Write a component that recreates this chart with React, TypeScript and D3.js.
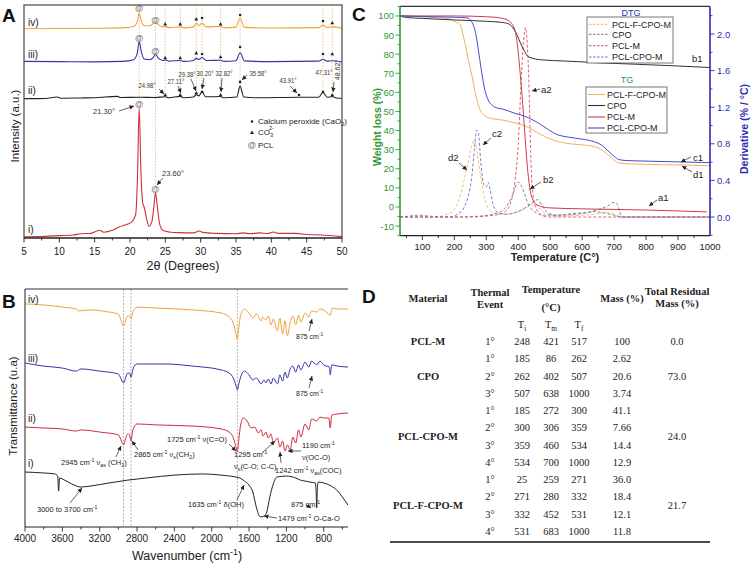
import React from 'react';
import * as d3 from 'd3';

type P = [number, number];

// ---------------- Panel A: XRD ----------------
const xrdI: P[] = [[5,0.5],[8,0.7],[10,1],[12,1.3],[13,1.8],[14.5,2],[15.3,3],[15.7,3.3],[16.3,2.5],[17.5,3.3],[18.5,4.8],[19.5,5.8],[20.3,7],[20.8,10],[21.05,25],[21.3,56],[21.55,28],[21.8,15],[22.0,13.3],[22.3,9],[22.7,5],[23.1,7],[23.4,14],[23.6,19.5],[23.85,14],[24.2,6],[24.7,3.2],[25.5,2.6],[27,2.3],[29,2.2],[29.8,3],[30.3,2.4],[32,2],[35,1.8],[36,2.2],[37,1.8],[38.3,2.2],[39.5,1.9],[40.3,2.6],[41,2],[43.5,2],[45,1.5],[47,1.3],[50,0.6]];
const xrdII: P[] = [[5,59.8],[8,59.9],[9.7,60.5],[10.2,60],[13,60.1],[15,60.2],[18.2,60.8],[18.7,60.3],[21.3,60.4],[23.6,60.3],[24.98,60.6],[25.5,60.2],[27.11,60.8],[27.6,60.2],[29.0,60.5],[29.38,61.5],[29.75,61],[30.2,62.9],[30.7,60.6],[32.82,60.7],[33.3,60.2],[35.1,60.5],[35.58,65.2],[36.1,60.5],[38,60.2],[43.91,60.4],[46.7,60.4],[47.31,62.5],[47.9,60.4],[48.62,60.7],[49.2,60.1],[50,60]];
const xrdIII: P[] = [[5,75.8],[10,75.7],[15,75.6],[19,75.8],[20.5,76.5],[21.0,79],[21.3,84.3],[21.6,80],[22.0,76.8],[22.8,76.5],[23.3,77.5],[23.6,78.8],[24.0,77.3],[24.6,76.2],[24.98,76.4],[25.5,75.9],[27.11,76.2],[27.6,75.8],[29.0,76.2],[29.38,77.1],[29.75,76.6],[30.2,77.5],[30.8,76.2],[32.82,76.3],[33.3,75.8],[35.0,76.1],[35.58,79.5],[36.2,76],[40,75.7],[46.7,75.9],[47.31,76.7],[47.9,75.9],[48.62,76.1],[50,75.6]];
const xrdIV: P[] = [[5,89.8],[10,89.9],[15,90],[19,90.2],[20.5,90.8],[21.0,92.5],[21.3,96.5],[21.6,93],[22.0,91.2],[22.7,91],[23.2,91.8],[23.6,92.6],[24.0,91.6],[24.6,90.6],[24.98,90.7],[25.5,90.3],[27.11,90.6],[27.6,90.2],[29.0,90.6],[29.38,92.1],[29.75,91.2],[30.2,92.1],[30.8,90.6],[32.82,90.8],[33.3,90.2],[35.0,90.5],[35.58,94.3],[36.2,90.4],[40,90.1],[46.7,90.3],[47.31,91.4],[47.9,90.3],[48.62,90.6],[50,90]];
const xrdLabels = ['i)', 'ii)', 'iii)', 'iv)'];
const xrdTicks = [5, 10, 15, 20, 25, 30, 35, 40, 45, 50];
// marker: [2theta, value, kind]  kind: p=@ PCL, d=CaO2 dot, t=CO3 triangle
const xrdMarkIV: [number, number, string][] = [[21.3,98.7,'p'],[23.6,93.6,'p'],[24.98,91.8,'t'],[27.11,91.8,'t'],[29.38,94,'t'],[30.2,94.4,'d'],[32.82,91.8,'t'],[35.58,95.7,'d'],[47.31,93.1,'d'],[48.62,92.3,'t']];
const xrdMarkIII: [number, number, string][] = [[21.3,85.8,'p'],[23.6,80.3,'p'],[24.98,77.3,'t'],[27.11,77.3,'t'],[29.38,79.4,'t'],[30.2,79,'d'],[32.82,77.7,'t'],[35.58,82,'d'],[47.31,79,'d'],[48.62,79,'t']];
const xrdMarkII: [number, number, string][] = [[24.98,61.4,'t'],[27.11,61.4,'t'],[29.38,62.2,'t'],[30.2,62.7,'d'],[32.82,61.4,'t'],[35.58,67,'d'],[43.91,61.4,'d'],[47.31,62.7,'d'],[48.62,61.4,'t']];
const xrdMarkI: [number, number, string][] = [[21.3,57.5,'p'],[23.6,21,'p']];
// dotted guide lines: [2theta, bottom value]
const xrdGuides: P[] = [[21.3,57.5],[23.6,21],[24.98,61.4],[27.11,61.4],[29.38,62.2],[30.2,62.7],[32.82,61.4],[35.58,61.4],[47.31,62.7],[48.62,61.4]];

// ---------------- Panel B: FTIR ----------------
const ftirI: P[] = [[4000,23.1],[3800,22.7],[3680,22.3],[3650,21.4],[3640,15.1],[3630,20.6],[3600,20.2],[3500,18.1],[3400,16.8],[3300,17.2],[3100,18.5],[2900,19.7],[2700,20.6],[2400,21.8],[2100,22.3],[1900,21.8],[1700,20.6],[1650,19.3],[1600,17.6],[1560,14.7],[1520,8],[1490,4.6],[1479,4.2],[1440,4.6],[1410,6.3],[1380,12.2],[1340,18.1],[1300,21],[1200,21.4],[1100,20.6],[1050,19.7],[1000,19.3],[950,18.9],[890,18.5],[880,13.4],[875,8],[870,14.7],[860,18.9],[800,18.5],[720,17.2],[650,15.1],[600,12.6],[540,9.2]];
const ftirII: P[] = [[4000,42],[3800,41.6],[3600,41.2],[3450,40.3],[3400,40.8],[3200,39.9],[3000,38.7],[2980,37.4],[2945,34.5],[2920,37.4],[2900,39.1],[2880,38.7],[2865,36.1],[2845,40.8],[2800,43.3],[2600,42.9],[2200,42.4],[1900,41.2],[1800,39.5],[1760,36.6],[1735,32.8],[1725,31.5],[1710,36.6],[1690,42.9],[1660,45.8],[1620,44.5],[1580,41.6],[1540,42],[1500,39.5],[1470,40.8],[1450,38.2],[1420,39.9],[1395,37.4],[1365,39.1],[1340,35.3],[1295,37.4],[1270,33.6],[1240,36.1],[1215,31.9],[1190,34.5],[1160,32.4],[1130,37.8],[1100,35.3],[1070,40.8],[1045,37.8],[1000,43.3],[960,40.8],[930,45.4],[875,44.5],[840,46.2],[800,45.8],[745,45.8],[730,41.6],[715,47],[650,47.5],[540,47.9]];
const ftirIII: P[] = [[4000,68.9],[3800,67.6],[3600,66.8],[3450,65.5],[3400,66.4],[3200,65.5],[3000,64.3],[2980,63],[2945,60.5],[2920,63],[2900,64.7],[2880,64.7],[2865,63],[2840,66.8],[2800,68.5],[2500,68.5],[2200,67.6],[1900,66],[1800,64.3],[1760,61.8],[1735,58.8],[1725,57.6],[1710,60.1],[1690,63],[1650,65.5],[1600,63.9],[1560,61.8],[1520,62.6],[1470,60.1],[1440,61.8],[1420,60.5],[1395,62.2],[1365,60.1],[1340,62.6],[1295,60.1],[1270,63.9],[1240,61.3],[1215,65.1],[1190,62.6],[1160,66.4],[1130,67.6],[1100,65.1],[1070,68.1],[1045,66],[1000,69.3],[960,67.2],[930,69.7],[875,68.1],[840,69.7],[800,68.1],[740,67.2],[730,63.9],[715,68.1],[650,67.6],[540,67.2]];
const ftirIV: P[] = [[4000,93.7],[3800,93.3],[3600,92.4],[3450,91.6],[3430,90.8],[3300,91.2],[3100,90.3],[3000,89.5],[2980,87.8],[2945,84.5],[2920,87],[2900,88.7],[2880,88.7],[2865,87.4],[2840,90.8],[2800,92.4],[2600,92],[2200,91.2],[1900,89.9],[1800,87.8],[1760,84.5],[1735,80.3],[1725,78.6],[1710,83.6],[1690,89],[1650,91.6],[1600,89.9],[1560,87.8],[1520,89.5],[1470,86.6],[1455,88.2],[1420,87],[1395,88.7],[1365,84.9],[1340,87.4],[1295,82.4],[1270,87.8],[1240,81.1],[1215,86.6],[1190,80.3],[1160,85.7],[1130,88.7],[1100,84.9],[1070,89],[1045,86.1],[1000,89.9],[960,88.2],[930,90.8],[875,90.3],[840,91.6],[800,91.2],[730,89],[710,92],[650,91.6],[540,91.6]];
const ftirTicks = [4000, 3600, 3200, 2800, 2400, 2000, 1600, 1200, 800];
const ftirGuides = [2945, 2865, 1725];

// ---------------- Panel C: TG / DTG ----------------
const tgPCLFCPOM: P[] = [[30,100],[100,99.5],[150,99],[190,98.2],[202,97],[210,96.5],[218,95.5],[226,91],[233,86],[245,76],[256,68],[264,61],[271,56],[280,51],[290,48.5],[311,46.5],[350,45.5],[390,44],[420,42.5],[444,40.5],[470,38],[494,36],[530,34],[565,33],[600,32.5],[640,31.5],[660,30],[680,27.5],[700,24.5],[715,23],[750,22.6],[800,22.3],[900,22],[1000,21.6]];
const tgCPO: P[] = [[30,100],[50,99.2],[100,98.7],[200,97.9],[300,97.2],[350,96.6],[371,95.8],[392,91.5],[412,84],[433,78.5],[474,77],[547,76.4],[650,75.5],[800,74.5],[900,73.8],[1000,73]];
const tgPCLM: P[] = [[30,100],[200,100],[300,99.6],[350,98.8],[380,96],[395,88],[405,72],[412,58],[420,40],[428,22],[436,10],[445,4],[455,1.5],[470,0.3],[500,-0.5],[600,-1],[700,-1.3],[800,-1.6],[900,-2.1],[990,-2.6]];
const tgPCLCPOM: P[] = [[30,100],[100,99.7],[200,99.3],[240,99],[254,97],[262,94],[270,88],[278,79],[286,70],[296,61],[306,56],[317,53.5],[330,52],[350,51.3],[390,49],[420,47.5],[444,45.7],[470,43.2],[494,40.5],[520,38],[560,36.5],[600,35.5],[640,34],[660,32.5],[680,29.5],[700,26.5],[715,24.8],[740,24.3],[800,24],[900,23.6],[1000,23.2]];
const dtgPCLFCPOM: P[] = [[30,0],[140,0],[170,0.02],[200,0.08],[220,0.25],[240,0.55],[255,0.78],[262,0.84],[270,0.72],[280,0.5],[290,0.28],[300,0.14],[315,0.06],[340,0.03],[380,0.04],[420,0.09],[440,0.13],[452,0.14],[470,0.08],[490,0.03],[520,0.01],[600,0.02],[660,0.04],[683,0.05],[700,0.03],[715,0],[1000,0]];
const dtgCPO: P[] = [[30,0],[60,0.01],[86,0.02],[120,0.01],[200,0],[280,0.01],[330,0.04],[360,0.1],[380,0.22],[400,0.38],[415,0.3],[430,0.15],[450,0.06],[480,0.02],[520,0.02],[580,0.04],[620,0.05],[638,0.06],[660,0.05],[700,0.02],[730,0],[1000,0]];
const dtgPCLM: P[] = [[30,0],[250,0],[300,0.01],[340,0.03],[360,0.06],[380,0.2],[390,0.4],[400,0.8],[408,1.4],[416,1.9],[423,2.07],[428,1.9],[433,1.5],[437,0.95],[441,0.5],[446,0.25],[455,0.1],[470,0.03],[490,0],[1000,0]];
const dtgPCLCPOM: P[] = [[30,0],[190,0],[210,0.03],[230,0.1],[245,0.25],[255,0.45],[263,0.75],[270,0.95],[275,0.92],[283,0.6],[292,0.35],[300,0.33],[306,0.38],[312,0.3],[320,0.15],[335,0.05],[360,0.03],[400,0.06],[430,0.12],[450,0.17],[461,0.19],[475,0.12],[495,0.04],[520,0.02],[580,0.03],[640,0.07],[680,0.12],[700,0.16],[710,0.14],[718,0.05],[724,0],[1000,0]];
const tgSeries = ['PCL-F-CPO-M', 'CPO', 'PCL-M', 'PCL-CPO-M'];
const tempTicks = [100, 200, 300, 400, 500, 600, 700, 800, 900, 1000];
const wlTicks = [-10, 0, 10, 20, 30, 40, 50, 60, 70, 80, 90, 100];
const derivTicks = [0, 0.4, 0.8, 1.2, 1.6, 2.0];

// ---------------- Panel D: table ----------------
const tblEvent = ['1°', '1°', '2°', '3°', '1°', '2°', '3°', '4°', '1°', '2°', '3°', '4°'];
const tblTi = ['248', '185', '262', '507', '185', '300', '359', '534', '25', '271', '332', '531'];
const tblTm = ['421', '86', '402', '638', '272', '306', '460', '700', '259', '280', '452', '683'];
const tblTf = ['517', '262', '507', '1000', '300', '359', '534', '1000', '271', '332', '531', '1000'];
const tblMass = ['100', '2.62', '20.6', '3.74', '41.1', '7.66', '14.4', '12.9', '36.0', '18.4', '12.1', '11.8'];
const tblMaterials = ['PCL-M', 'CPO', 'PCL-CPO-M', 'PCL-F-CPO-M'];
const tblResidual = ['0.0', '73.0', '24.0', '21.7'];
const tblGroupRows: P[] = [[0, 0], [1, 3], [4, 7], [8, 11]];

const SANS = 'Liberation Sans, Arial, Helvetica, sans-serif';
const SERIF = 'Liberation Serif, Times New Roman, serif';

function RT({ x, y, s, size = 9, anchor = 'start', fill = '#222', weight = 'normal', family = SANS }: any) {
  const parts = s.split(/(\^\{[^}]*\}|_\{[^}]*\})/).filter((p: string) => p !== '');
  let cur = 0;
  const spans = parts.map((p: string, i: number) => {
    let k = 0, t = p;
    if (p.startsWith('^{')) { k = -1; t = p.slice(2, -1); }
    else if (p.startsWith('_{')) { k = 1; t = p.slice(2, -1); }
    const target = k === -1 ? -size * 0.4 : k === 1 ? size * 0.3 : 0;
    const dy = target - cur; cur = target;
    return <tspan key={i} dy={dy} fontSize={k ? size * 0.7 : size}>{t}</tspan>;
  });
  return <text x={x} y={y} textAnchor={anchor} fill={fill} fontWeight={weight} fontFamily={family} fontSize={size}>{spans}</text>;
}

function Arrow({ x1, y1, x2, y2, c = '#222' }: any) {
  return <line x1={x1} y1={y1} x2={x2} y2={y2} stroke={c} strokeWidth={0.7} markerEnd="url(#arr)" />;
}

function Marker({ x, y, k }: any) {
  if (k === 'p') return <text x={x} y={y + 3} textAnchor="middle" fontSize={8.5} fontWeight="bold" fill="#808080" fontFamily={SANS}>@</text>;
  if (k === 'd') return <circle cx={x} cy={y} r={1.3} fill="#222" />;
  return <path d={`M${x},${y - 2} L${x + 1.9},${y + 1.4} L${x - 1.9},${y + 1.4} Z`} fill="#222" />;
}

function PeakLabel({ x, y, t }: any) {
  return <text x={x} y={y} textAnchor="middle" fontSize={7} fontFamily={SANS} fill="#333" textLength={17} lengthAdjust="spacingAndGlyphs">{t}</text>;
}

export default function App() {
  const xA = d3.scaleLinear().domain([5, 50]).range([24, 342]);
  const yA = d3.scaleLinear().domain([0, 100]).range([238, 5]);
  const lineA = d3.line<P>().x(d => xA(d[0])).y(d => yA(d[1])).curve(d3.curveMonotoneX);

  const xB = d3.scaleLinear().domain([4000, 540]).range([25, 348]);
  const yB = d3.scaleLinear().domain([0, 100]).range([527, 289]);
  const lineB = d3.line<P>().x(d => xB(d[0])).y(d => yB(d[1])).curve(d3.curveMonotoneX);

  const xC = d3.scaleLinear().domain([30, 1000]).range([400, 710]);
  const yCL = d3.scaleLinear().domain([-15, 105]).range([235.6, 6.4]);
  const yCR = d3.scaleLinear().domain([0, 2]).range([217, 34]);
  const lineTG = d3.line<P>().x(d => xC(d[0])).y(d => yCL(d[1])).curve(d3.curveMonotoneX);
  const lineDTG = d3.line<P>().x(d => xC(d[0])).y(d => yCR(d[1])).curve(d3.curveMonotoneX);

  const ORANGE = '#efa23e', BLUE = '#3434ad', RED = '#cf2e3e', BLACK = '#222';
  const GREEN = '#2f9a35', DBLUE = '#2d2db0';

  const xrdCurves: [P[], string][] = [[xrdI, RED], [xrdII, BLACK], [xrdIII, BLUE], [xrdIV, ORANGE]];
  const xrdLabelY = [233, 94, 58, 26];
  const xrdMarks = [xrdMarkI, xrdMarkII, xrdMarkIII, xrdMarkIV];

  const ftirCurves: [P[], string][] = [[ftirI, BLACK], [ftirII, RED], [ftirIII, BLUE], [ftirIV, ORANGE]];
  const ftirLabelY = [467, 422, 362, 303];

  const tgColors = ['#f2b060', '#333', '#cf3a48', '#4848d0'];
  const dtgColors = ['#f0b860', '#7a7a7a', '#e0505e', '#7070c8'];
  const tgData = [tgPCLFCPOM, tgCPO, tgPCLM, tgPCLCPOM];
  const dtgData = [dtgPCLFCPOM, dtgCPO, dtgPCLM, dtgPCLCPOM];

  const minorA = d3.range(5, 50.01, 2.5);
  const minorB = d3.range(4000, 539, -200);
  const minorCx = d3.range(50, 1000, 50);
  const minorCl = d3.range(-15, 105.01, 5);
  const minorCr = d3.range(-0.2, 2.31, 0.2);

  const rowY = (i: number) => 345 + i * 17.27;
  const colX = { mat: 428, ev: 490, ti: 522, tm: 551, tf: 579, mass: 622, res: 677 };

  return (
    <svg width={753} height={567} viewBox="0 0 753 567" style={{ position: 'absolute', left: 0, top: 0, background: '#fff' }}>
      <defs>
        <marker id="arr" viewBox="0 0 6 6" refX={6} refY={3} markerWidth={4.5} markerHeight={4.5} markerUnits="userSpaceOnUse" orient="auto">
          <path d="M0,0 L6,3 L0,6 Z" fill="#222" />
        </marker>
      </defs>
      <rect x={0} y={0} width={753} height={567} fill="#fff" />

      {/* ================= Panel A ================= */}
      <text x={2} y={22} fontSize={19} fontWeight="bold" fontFamily={SANS} fill="#111">A</text>
      {xrdGuides.map(([t, v], i) => (
        <line key={i} x1={xA(t)} x2={xA(t)} y1={yA(100)} y2={yA(v) - 3} stroke="#e9b46a" strokeWidth={0.8} strokeDasharray="1.5,1.5" />
      ))}
      {xrdCurves.map(([d, c], i) => (
        <path key={i} d={lineA(d) || ''} fill="none" stroke={c} strokeWidth={1.1} />
      ))}
      {xrdMarks.map((ms, i) => ms.map(([t, v, k], j) => <Marker key={i + '-' + j} x={xA(t)} y={yA(v)} k={k} />))}
      {xrdLabels.map((l, i) => (
        <text key={l} x={28} y={xrdLabelY[i]} fontSize={10} fontFamily={SANS} fill="#222">{l}</text>
      ))}
      <rect x={24} y={5} width={318} height={233} fill="none" stroke="#555" strokeWidth={1.3} />
      <line x1={24} x2={342} y1={238} y2={238} stroke="#222" strokeWidth={1.2} />
      {minorA.map(t => (
        <line key={t} x1={xA(t)} x2={xA(t)} y1={238} y2={238 + (t % 5 === 0 ? 4.5 : 2.5)} stroke="#222" strokeWidth={0.9} />
      ))}
      {xrdTicks.map(t => (
        <text key={t} x={xA(t)} y={255} textAnchor="middle" fontSize={10} fontFamily={SANS} fill="#222">{t}</text>
      ))}
      <text x={183} y={270} textAnchor="middle" fontSize={12.5} fontFamily={SANS} fill="#222">2θ (Degrees)</text>
      <text transform="translate(19,126) rotate(-90)" textAnchor="middle" fontSize={11.5} fontFamily={SANS} fill="#222">Intensity (a.u.)</text>
      {/* annotations A */}
      <text x={104} y={114} textAnchor="middle" fontSize={7.5} fontFamily={SANS} fill="#333">21.30°</text>
      <Arrow x1={119} y1={111} x2={134} y2={106} />
      <text x={173} y={176} textAnchor="middle" fontSize={7.5} fontFamily={SANS} fill="#333">23.60°</text>
      <Arrow x1={163} y1={178} x2={157} y2={185} />
      <PeakLabel x={147} y={88} t="24.98°" />
      <Arrow x1={159} y1={89} x2={164} y2={94} />
      <PeakLabel x={176} y={84} t="27.11°" />
      <Arrow x1={178} y1={86} x2={181} y2={93} />
      <PeakLabel x={187} y={77} t="29.38°" />
      <Arrow x1={191} y1={79} x2={196} y2={91} />
      <PeakLabel x={205} y={76} t="30.20°" />
      <Arrow x1={204} y1={78} x2={202} y2={89} />
      <PeakLabel x={224} y={76} t="32.82°" />
      <Arrow x1={222} y1={78} x2={221} y2={92} />
      <PeakLabel x={258} y={76} t="35.58°" />
      <Arrow x1={247} y1={75} x2={242} y2={80} />
      <PeakLabel x={288} y={83} t="43.91°" />
      <Arrow x1={290} y1={86} x2={297} y2={93} />
      <PeakLabel x={324} y={75} t="47.31°" />
      <text transform="translate(340,70) rotate(-90)" textAnchor="middle" fontSize={7} fontFamily={SANS} fill="#333">48.62°</text>
      <Arrow x1={334} y1={82} x2={333} y2={92} />
      {/* legend A */}
      <circle cx={252} cy={121.5} r={1.3} fill="#222" />
      <RT x={258} y={124} s="Calcium peroxide (CaO_{2})" size={8} />
      <path d="M252,130.5 L254,134 L250,134 Z" fill="#222" />
      <RT x={258} y={135} s="CO_{3}" size={8} />
      <text x={269} y={130} fontSize={5.5} fontFamily={SANS} fill="#222">2-</text>
      <text x={252} y={148} textAnchor="middle" fontSize={8.5} fontWeight="bold" fill="#808080" fontFamily={SANS}>@</text>
      <text x={258} y={148} fontSize={8} fontFamily={SANS} fill="#222">PCL</text>

      {/* ================= Panel B ================= */}
      <text x={2} y={308} fontSize={19} fontWeight="bold" fontFamily={SANS} fill="#111">B</text>
      {ftirGuides.map(w => (
        <line key={w} x1={xB(w)} x2={xB(w)} y1={289} y2={527} stroke="#9a9a9a" strokeWidth={0.8} strokeDasharray="2,1.5" />
      ))}
      {ftirCurves.map(([d, c], i) => (
        <path key={i} d={lineB(d) || ''} fill="none" stroke={c} strokeWidth={1} />
      ))}
      {xrdLabels.map((l, i) => (
        <text key={l} x={28} y={ftirLabelY[i]} fontSize={10} fontFamily={SANS} fill="#222">{l}</text>
      ))}
      <line x1={25} x2={348} y1={289} y2={289} stroke="#333" strokeWidth={1.1} />
      <line x1={25} x2={25} y1={289} y2={527} stroke="#333" strokeWidth={1.1} />
      <line x1={25} x2={348} y1={527} y2={527} stroke="#222" strokeWidth={1.2} />
      {minorB.map(w => (
        <line key={w} x1={xB(w)} x2={xB(w)} y1={527} y2={527 + (w % 400 === 0 ? 4.5 : 2.5)} stroke="#222" strokeWidth={0.9} />
      ))}
      {ftirTicks.map(w => (
        <text key={w} x={xB(w)} y={542} textAnchor="middle" fontSize={10} fontFamily={SANS} fill="#222">{w}</text>
      ))}
      <RT x={187} y={560} s="Wavenumber (cm^{-1})" size={12.5} anchor="middle" />
      <text transform="translate(17,406) rotate(-90)" textAnchor="middle" fontSize={11.5} fontFamily={SANS} fill="#222">Transmittance (u.a)</text>
      {/* annotations B */}
      <RT x={296} y={339} s="875 cm^{-1}" size={7} />
      <Arrow x1={309} y1={331} x2={312} y2={319} />
      <RT x={296} y={396} s="875 cm^{-1}" size={7} />
      <Arrow x1={309} y1={388} x2={312} y2={376} />
      <RT x={61} y={465} s="2945 cm^{-1} ν_{as} (CH_{2})" size={7.5} />
      <Arrow x1={116} y1={457} x2={121} y2={446} />
      <RT x={134} y={457} s="2865 cm^{-1} ν_{s}(CH_{2})" size={7.5} />
      <Arrow x1={138} y1={450} x2={132} y2={441} />
      <RT x={167} y={442} s="1725 cm^{-1} ν(C=O)" size={7.5} />
      <Arrow x1={229} y1={444} x2={236} y2={451} />
      <RT x={234} y={457} s="1295 cm^{-1}" size={7.5} />
      <RT x={234} y={469} s="ν_{s}(C-O; C-C)" size={7.5} />
      <Arrow x1={262} y1={453} x2={275} y2={441} />
      <RT x={275} y={473} s="1242 cm^{-1} ν_{as}(COC)" size={7.5} />
      <Arrow x1={281} y1={463} x2={280} y2={452} />
      <RT x={302} y={448} s="1190 cm^{-1}" size={7.5} />
      <RT x={302} y={460} s="ν(OC-O)" size={7.5} />
      <Arrow x1={301} y1={451} x2={288} y2={451} />
      <RT x={37} y={512} s="3000 to 3700 cm^{-1}" size={7.5} />
      <Arrow x1={70} y1={503} x2={82} y2={488} />
      <RT x={188} y={507} s="1635 cm^{-1} δ(OH)" size={7.5} />
      <Arrow x1={237} y1={500} x2={244} y2={485} />
      <RT x={291} y={507} s="875 cm^{-1}" size={7.5} />
      <Arrow x1={306} y1={505} x2={311} y2={508} />
      <RT x={278} y={521} s="1479 cm^{-1} O-Ca-O" size={7.5} />
      <Arrow x1={277} y1={518} x2={264} y2={516} />

      {/* ================= Panel C ================= */}
      <text x={352} y={21} fontSize={19} fontWeight="bold" fontFamily={SANS} fill="#111">C</text>
      {dtgData.map((d, i) => (
        <path key={'dtg' + i} d={lineDTG(d) || ''} fill="none" stroke={dtgColors[i]} strokeWidth={0.9} strokeDasharray="3,2" />
      ))}
      {tgData.map((d, i) => (
        <path key={'tg' + i} d={lineTG(d) || ''} fill="none" stroke={tgColors[i]} strokeWidth={1} />
      ))}
      <line x1={400} x2={710} y1={6.4} y2={6.4} stroke="#333" strokeWidth={1.2} />
      <line x1={400} x2={710} y1={235.6} y2={235.6} stroke="#222" strokeWidth={1.2} />
      <line x1={400} x2={400} y1={6.4} y2={235.6} stroke={GREEN} strokeWidth={1.6} />
      <line x1={710} x2={710} y1={6.4} y2={235.6} stroke={DBLUE} strokeWidth={1.6} />
      {minorCx.map(t => (
        <line key={t} x1={xC(t)} x2={xC(t)} y1={235.6} y2={235.6 + (t % 100 === 0 ? 4.5 : 2.5)} stroke="#222" strokeWidth={0.9} />
      ))}
      {tempTicks.map(t => (
        <text key={t} x={xC(t)} y={250} textAnchor="middle" fontSize={9.5} fontFamily={SANS} fill="#222">{t}</text>
      ))}
      {minorCl.map(v => (
        <line key={v} x1={400} x2={400 - (Math.round(v) % 10 === 0 ? 4.5 : 2.5)} y1={yCL(v)} y2={yCL(v)} stroke={GREEN} strokeWidth={0.9} />
      ))}
      {wlTicks.map(v => (
        <text key={v} x={394} y={yCL(v) + 3.5} textAnchor="end" fontSize={9.5} fontFamily={SANS} fill={GREEN}>{v}</text>
      ))}
      {minorCr.map((v, i) => (
        <line key={i} x1={710} x2={710 + (i % 2 === 1 ? 4.5 : 2.5)} y1={yCR(v)} y2={yCR(v)} stroke={DBLUE} strokeWidth={0.9} />
      ))}
      {derivTicks.map(v => (
        <text key={v} x={717} y={yCR(v) + 3.5} fontSize={9.5} fontFamily={SANS} fill={DBLUE}>{v.toFixed(1)}</text>
      ))}
      <text x={555} y={261} textAnchor="middle" fontSize={11} fontWeight="bold" fontFamily={SANS} fill="#222">Temperature (C°)</text>
      <text transform="translate(381,127) rotate(-90)" textAnchor="middle" fontSize={10.5} fontWeight="bold" fontFamily={SANS} fill={GREEN}>Weight loss (%)</text>
      <text transform="translate(748,129) rotate(-90)" textAnchor="middle" fontSize={10.5} fontWeight="bold" fontFamily={SANS} fill={DBLUE}>Derivative (% / °C)</text>
      {/* legends C */}
      <text x={631} y={16} textAnchor="middle" fontSize={9} fontFamily={SANS} fill={DBLUE}>DTG</text>
      <rect x={587} y={17} width={86} height={46} fill="#fff" stroke="#555" strokeWidth={0.8} />
      {tgSeries.map((s, i) => {
        const yy = [24.3, 34.3, 45.7, 57][i];
        return (
          <g key={'ld' + i}>
            <line x1={589} x2={608} y1={yy} y2={yy} stroke={dtgColors[i]} strokeWidth={1} strokeDasharray="2.5,1.5" />
            <text x={612} y={yy + 3.3} fontSize={9} fontFamily={SANS} fill="#222">{s}</text>
          </g>
        );
      })}
      <text x={627} y={83} textAnchor="middle" fontSize={9} fontFamily={SANS} fill={GREEN}>TG</text>
      <rect x={586} y={87} width={81} height={46} fill="#fff" stroke="#555" strokeWidth={0.8} />
      {tgSeries.map((s, i) => {
        const yy = [94.5, 105.5, 117, 128][i];
        return (
          <g key={'lt' + i}>
            <line x1={588} x2={605} y1={yy} y2={yy} stroke={tgColors[i]} strokeWidth={1.1} />
            <text x={607} y={yy + 3.3} fontSize={9} fontFamily={SANS} fill="#222">{s}</text>
          </g>
        );
      })}
      {/* annotations C */}
      <text x={541} y={93} fontSize={9.5} fontFamily={SANS} fill="#222">a2</text>
      <Arrow x1={540} y1={89} x2={532} y2={91} />
      <text x={492} y={137} fontSize={9.5} fontFamily={SANS} fill="#222">c2</text>
      <Arrow x1={491} y1={138} x2={483} y2={145} />
      <text x={448} y={161} fontSize={9.5} fontFamily={SANS} fill="#222">d2</text>
      <Arrow x1={459} y1={163} x2={467} y2={170} />
      <text x={543} y={183} fontSize={9.5} fontFamily={SANS} fill="#222">b2</text>
      <Arrow x1={541} y1={182} x2={530} y2={189} />
      <text x={658} y={201} fontSize={9.5} fontFamily={SANS} fill="#222">a1</text>
      <Arrow x1={657} y1={200} x2={649} y2={206} />
      <text x={693} y={161} fontSize={9.5} fontFamily={SANS} fill="#222">c1</text>
      <Arrow x1={691} y1={157} x2={681} y2={162} />
      <text x={693} y={178} fontSize={9.5} fontFamily={SANS} fill="#222">d1</text>
      <Arrow x1={692} y1={172} x2={682} y2={166} />
      <text x={692} y={62} fontSize={9.5} fontFamily={SANS} fill="#222">b1</text>

      {/* ================= Panel D ================= */}
      <text x={362} y={303} fontSize={19} fontWeight="bold" fontFamily={SANS} fill="#111">D</text>
      <g fontFamily={SERIF} fontSize={10.5} fill="#222">
        <text x={colX.mat} y={302} textAnchor="middle" fontWeight="bold">Material</text>
        <text x={colX.ev} y={296} textAnchor="middle" fontWeight="bold">Thermal</text>
        <text x={colX.ev} y={307.5} textAnchor="middle" fontWeight="bold">Event</text>
        <text x={colX.tm} y={293} textAnchor="middle" fontWeight="bold">Temperature</text>
        <text x={colX.tm} y={311} textAnchor="middle" fontWeight="bold">(°C)</text>
        <text x={colX.mass} y={302} textAnchor="middle" fontWeight="bold">Mass (%)</text>
        <text x={colX.res} y={295} textAnchor="middle" fontWeight="bold">Total Residual</text>
        <text x={colX.res} y={306.5} textAnchor="middle" fontWeight="bold">Mass (%)</text>
      </g>
      <RT x={colX.ti} y={328} s="T_{i}" size={10.5} anchor="middle" family={SERIF} />
      <RT x={colX.tm} y={328} s="T_{m}" size={10.5} anchor="middle" family={SERIF} />
      <RT x={colX.tf} y={328} s="T_{f}" size={10.5} anchor="middle" family={SERIF} />
      <g fontFamily={SERIF} fontSize={10.5} fill="#222" textAnchor="middle">
        {tblEvent.map((e, i) => (
          <g key={i}>
            <text x={colX.ev} y={rowY(i)}>{e}</text>
            <text x={colX.ti} y={rowY(i)}>{tblTi[i]}</text>
            <text x={colX.tm} y={rowY(i)}>{tblTm[i]}</text>
            <text x={colX.tf} y={rowY(i)}>{tblTf[i]}</text>
            <text x={colX.mass} y={rowY(i)}>{tblMass[i]}</text>
          </g>
        ))}
        {tblMaterials.map((m, i) => {
          const [a, b] = tblGroupRows[i];
          const yy = (rowY(a) + rowY(b)) / 2;
          return (
            <g key={m}>
              <text x={colX.mat} y={yy} fontWeight="bold">{m}</text>
              <text x={colX.res} y={yy}>{tblResidual[i]}</text>
            </g>
          );
        })}
      </g>
      <line x1={390} x2={710} y1={542} y2={542} stroke="#111" strokeWidth={1.5} />
    </svg>
  );
}
